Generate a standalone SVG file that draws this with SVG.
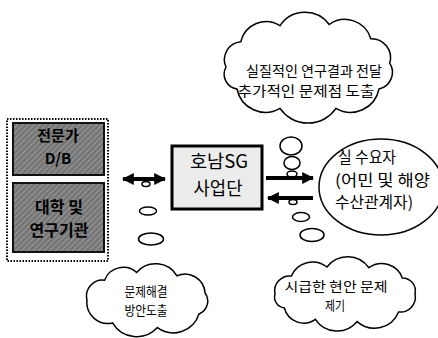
<svg xmlns="http://www.w3.org/2000/svg" width="438" height="338" viewBox="0 0 438 338">
<defs>
<pattern id="hatch" width="4" height="4" patternUnits="userSpaceOnUse" patternTransform="rotate(45)">
<rect width="4" height="4" fill="#767676"/>
<line x1="0" y1="0" x2="0" y2="4" stroke="#a4a4a4" stroke-width="1.5"/>
</pattern>
<marker id="ah" viewBox="0 0 10 10" refX="9" refY="5" markerWidth="3" markerHeight="3" orient="auto-start-reverse">
<path d="M0,0 L10,5 L0,10 Z" fill="#000"/>
</marker>
</defs>
<style>
.t{font-family:"Noto Sans CJK KR","Noto Sans",sans-serif;fill:#000;text-anchor:middle}
.s{text-anchor:start}
.gb{fill:url(#hatch);stroke:#111;stroke-width:2}
.gt{font-size:16px;font-weight:bold}
.cl{fill:#fff;stroke:#000;stroke-width:1.5}
.bub{fill:#fff;stroke:#000;stroke-width:1.5}
.ar{stroke:#000;stroke-width:4;fill:none}
</style>
<rect width="438" height="338" fill="#fff"/>

<g id="group-left">
<rect x="7" y="119" width="101" height="142" fill="none" stroke="#000" stroke-width="2" stroke-dasharray="1.5 1.5"/>
</g>
<g id="node-expert">
<rect class="gb" x="13" y="123" width="91" height="52"/>
<text class="t gt" x="58" y="141" style="font-size:15px">전문가</text>
<text class="t gt" x="58" y="164" style="font-size:15px">D/B</text>
</g>
<g id="node-univ">
<rect class="gb" x="13" y="183" width="91" height="69"/>
<text class="t gt" x="59" y="213">대학 및</text>
<text class="t gt" x="59" y="236">연구기관</text>
</g>

<g id="node-center">
<rect x="172" y="146" width="90" height="63" fill="#ececec" stroke="#000" stroke-width="3"/>
<text class="t" x="219" y="168" font-size="18" textLength="58" lengthAdjust="spacingAndGlyphs">호남SG</text>
<text class="t" x="218" y="195" font-size="18" textLength="49" lengthAdjust="spacingAndGlyphs">사업단</text>
</g>

<g id="node-users">
<ellipse cx="381" cy="187" rx="62" ry="48" fill="#fff" stroke="#000" stroke-width="1.5"/>
<text class="t s" x="338" y="163" font-size="16" textLength="58" lengthAdjust="spacingAndGlyphs">실 수요자</text>
<text class="t s" x="335" y="186" font-size="16" textLength="95" lengthAdjust="spacingAndGlyphs">(어민 및 해양</text>
<text class="t s" x="335" y="208" font-size="16" textLength="78" lengthAdjust="spacingAndGlyphs">수산관계자)</text>
</g>

<g id="cloud-top">
<path class="cl" d="M226,67 A18,18 0 0 1 240.8,41.7 A26,26 0 0 1 280,25.6 A30,30 0 0 1 329.2,24.5 A27,27 0 0 1 370.8,38.7 A19,19 0 0 1 389.7,63.2 A17,17 0 0 1 379,89 A29,29 0 0 1 336,108.4 A34,34 0 0 1 280,108.4 A29,29 0 0 1 237,89 A15,15 0 0 1 226,67 Z"/>
<text class="t" x="314" y="76" font-size="14" textLength="136" lengthAdjust="spacingAndGlyphs">실질적인 연구결과 전달</text>
<text class="t" x="306" y="96" font-size="14" textLength="137" lengthAdjust="spacingAndGlyphs">추가적인 문제점 도출</text>
</g>

<g id="cloud-bl">
<path class="cl" d="M87,300 A16,16 0 0 1 104.6,280.2 A20,20 0 0 1 136.6,272.4 A25,25 0 0 1 177,275.8 A20,20 0 0 1 205,292.7 A14,14 0 0 1 199,314 A27,27 0 0 1 157.4,327.6 A28,28 0 0 1 112.6,322.9 A21,21 0 0 1 87,300 Z"/>
<text class="t" x="146" y="296" font-size="13" textLength="43" lengthAdjust="spacingAndGlyphs">문제해결</text>
<text class="t" x="146" y="315" font-size="13" textLength="43" lengthAdjust="spacingAndGlyphs">방안도출</text>
</g>

<g id="cloud-br">
<path class="cl" d="M275,294 A15,15 0 0 1 291.4,276 A23,23 0 0 1 326.9,267 A26,26 0 0 1 368.9,267.7 A22,22 0 0 1 402.3,277.9 A13,13 0 0 1 415,294 A15,15 0 0 1 398.6,312 A26,26 0 0 1 357.2,321.6 A26,26 0 0 1 315.4,319.4 A20,20 0 0 1 284.4,308 A11,11 0 0 1 275,294 Z"/>
<text class="t" x="336" y="291" font-size="13" textLength="103" lengthAdjust="spacingAndGlyphs">시급한 현안 문제</text>
<text class="t" x="335" y="310" font-size="13" textLength="20" lengthAdjust="spacingAndGlyphs">제기</text>
</g>

<g id="bubbles">
<ellipse class="bub" cx="146" cy="184" rx="4" ry="2.5"/>
<ellipse class="bub" cx="148" cy="211" rx="8.5" ry="4"/>
<ellipse class="bub" cx="151" cy="239" rx="12.5" ry="6"/>
<ellipse class="bub" cx="291" cy="146" rx="11" ry="9"/>
<ellipse class="bub" cx="292" cy="163" rx="8" ry="6.5"/>
<ellipse class="bub" cx="292" cy="174" rx="5" ry="3"/>
<ellipse class="bub" cx="293" cy="202" rx="4" ry="2.5"/>
<ellipse class="bub" cx="301" cy="217" rx="8.5" ry="4.5"/>
<ellipse class="bub" cx="312" cy="235" rx="12" ry="6.5"/>
</g>

<g id="connectors">
<line class="ar" x1="123" y1="179" x2="165" y2="179" marker-start="url(#ah)" marker-end="url(#ah)"/>
<line class="ar" x1="266" y1="178" x2="313" y2="178" marker-end="url(#ah)"/>
<line class="ar" x1="313" y1="198" x2="268" y2="198" marker-end="url(#ah)"/>
</g>
</svg>
